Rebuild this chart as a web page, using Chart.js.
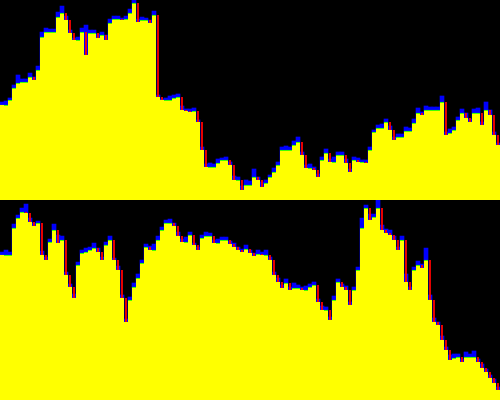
<!DOCTYPE html>
<html>
<head>
<meta charset="utf-8">
<script src="https://cdn.jsdelivr.net/npm/chart.js@4"></script>
<style>
  html, body { margin: 0; padding: 0; background: #000; }
  canvas { display: block; }
</style>
</head>
<body>
<canvas id="topChart" width="500" height="200"></canvas>
<canvas id="bottomChart" width="500" height="200"></canvas>
<script>
// closing level of each column (0 = panel bottom, 200 = panel top)
let topClose = [95,95,100,112,117,118,118,123,120,130, 163,168,168,168,183,187,180,167,160,160,
    168,145,167,167,162,165,160,177,181,181, 180,181,187,197,178,180,180,177,185,103,
    100,100,100,102,103,90,89,88,89,78, 50,33,33,33,37,40,40,35,20,20,
    10,15,15,23,20,13,17,23,28,35, 50,50,50,55,58,45,32,32,30,23,
    40,47,38,38,45,45,37,28,40,38, 38,37,50,68,72,72,78,70,60,63,
    63,69,69,77,87,85,90,90,90,90, 98,65,67,70,80,87,82,78,87,87,
    75,90,85,65,55];
// how far the high sits above the close
let topWick = [3,4,2,3,8,3,3,4,3,4, 5,4,3,3,5,7,4,3,2,3, 4,30,3,3,4,3,5,4,3,3,
    2,3,4,6,3,3,2,3,4,2, 1,2,4,3,3,4,2,3,3,2, 3,3,4,3,4,2,3,3,4,3,
    4,5,4,8,3,5,3,2,4,3, 3,4,3,4,5,3,3,4,3,3, 3,4,3,5,3,3,4,3,3,4,
    2,3,3,2,3,4,3,4,3,3, 3,4,3,4,5,3,4,3,3,3, 6,3,4,3,3,4,5,3,4,5,
    3,8,5,3,2];

let bottomClose = [145,145,145,172,182,188,187,178,174,177, 145,140,158,170,157,160,125,113,102,135,
    147,148,150,152,148,140,155,160,140,130, 102,78,100,113,122,137,153,150,150,160,
    170,177,177,174,164,158,158,165,155,150, 162,164,164,157,157,160,160,156,153,150,
    148,151,147,144,146,145,145,140,125,118, 112,117,110,112,112,110,110,113,115,98,
    90,90,80,100,118,113,110,95,110,130, 172,192,180,183,192,170,167,165,160,150,
    160,118,110,130,135,132,140,100,78,75, 60,50,40,42,43,38,43,43,43,38,
    32,28,22,17,10];
let bottomWick = [3,5,3,4,3,4,9,4,3,2, 4,3,3,6,8,4,3,3,4,3, 3,4,3,5,4,3,3,4,2,4,
    3,3,3,4,4,3,3,4,6,4, 3,3,4,3,4,3,5,3,2,3, 3,4,3,3,4,3,3,3,4,3,
    3,4,3,3,4,3,5,3,3,4, 3,4,3,5,3,3,4,3,3,3, 4,3,3,4,3,3,4,3,3,3,
    10,3,6,3,8,5,4,5,4,3, 4,8,3,3,4,4,12,5,4,3, 4,3,5,4,3,3,5,3,6,3,
    4,3,3,4,3];

function makePanel(id, closes, wicks) {
    let labels = closes.map((c, i) => i);
    let highs = closes.map((c, i) => c + wicks[i]);
    // falling columns get a red body from the close up to the previous close
    let drops = closes.map((c, i) => (i > 0 && closes[i - 1] > c) ? [c, closes[i - 1]] : null);
    new Chart(document.getElementById(id), {
        type: 'bar',
        data: {
            labels: labels,
            datasets: [{
                data: drops,
                backgroundColor: '#ff0000',
                borderWidth: 0,
                barPercentage: 0.45,
                categoryPercentage: 1,
                grouped: false,
                order: 0
            }, {
                data: closes,
                backgroundColor: '#ffff00',
                borderColor: (ctx) => {
                    let i = ctx.dataIndex;
                    return (i > 0 && closes[i] >= closes[i - 1]) ? '#00ff00' : '#ffff00';
                },
                borderWidth: { top: 1, left: 0, right: 0, bottom: 0 },
                borderSkipped: false,
                barPercentage: 1,
                categoryPercentage: 1,
                grouped: false,
                order: 1
            }, {
                data: highs,
                backgroundColor: '#0000ff',
                borderWidth: 0,
                barPercentage: 1,
                categoryPercentage: 1,
                grouped: false,
                order: 2
            }]
        },
        options: {
            responsive: false,
            devicePixelRatio: 1,
            animation: false,
            layout: { padding: 0 },
            scales: {
                x: { display: false },
                y: { display: false, min: 0, max: 200 }
            },
            plugins: {
                legend: { display: false },
                tooltip: { enabled: false }
            }
        }
    });
}

makePanel('topChart', topClose, topWick);
makePanel('bottomChart', bottomClose, bottomWick);
</script>
</body>
</html>
